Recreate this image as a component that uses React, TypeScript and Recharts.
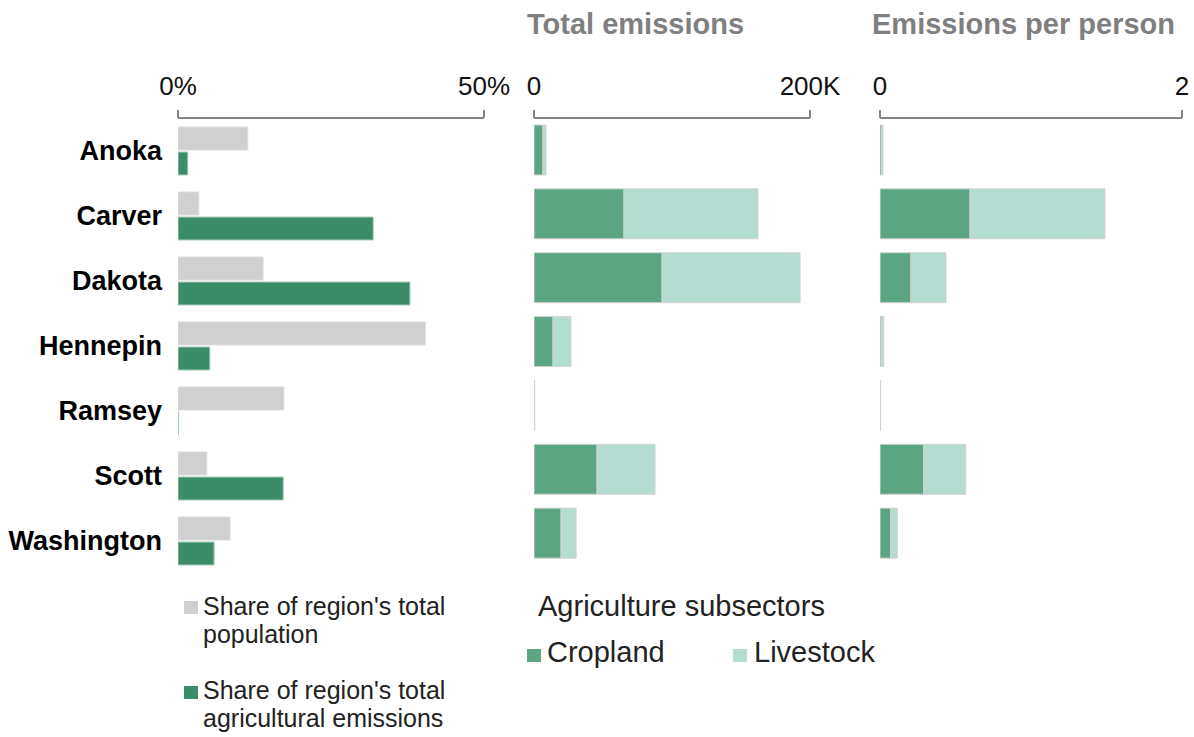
import { BarChart, Bar, XAxis, YAxis } from "recharts";

const counties = ["Anoka", "Carver", "Dakota", "Hennepin", "Ramsey", "Scott", "Washington"];
const populationShare = [11.4, 3.4, 13.9, 40.4, 17.3, 4.7, 8.5];
const emissionsShare = [1.6, 31.9, 37.9, 5.2, 0.1, 17.2, 5.9];
const croplandTotal = [6500, 65200, 92800, 13800, 200, 45700, 19600];
const livestockTotal = [2200, 97100, 100000, 13000, 300, 42000, 10900];
const croplandPerPerson = [0.012, 0.596, 0.205, 0.008, 0.001, 0.29, 0.071];
const livestockPerPerson = [0.008, 0.894, 0.232, 0.017, 0.002, 0.278, 0.044];
const shareTicks = [0, 50];
const totalTicks = [0, 200000];
const perPersonTicks = [0, 2];
const shareLegend = [
  ["Share of region's total", "population"],
  ["Share of region's total", "agricultural emissions"],
];
const subsectorTitle = "Agriculture subsectors";
const subsectors = ["Cropland", "Livestock"];

const FONT = '"Liberation Sans", Arial, sans-serif';
const GRAY = "#d0d0d0";
const GREEN = "#3b8c68";
const CROP = "#5ba582";
const LIVE = "#b3ddd0";
const AXIS = "#858585";

const data = counties.map((county, i) => ({
  county,
  population: populationShare[i],
  emissions: emissionsShare[i],
  cropTotal: croplandTotal[i],
  liveTotal: livestockTotal[i],
  cropPer: croplandPerPerson[i],
  livePer: livestockPerPerson[i],
}));

const tickStyle = { fill: "#111", fontSize: 26, fontFamily: FONT };

function topAxis(ticks: number[], fmt: (v: number) => string) {
  return (
    <XAxis
      type="number"
      orientation="top"
      domain={[ticks[0], ticks[ticks.length - 1]]}
      ticks={ticks}
      interval={0}
      height={40}
      tickSize={8}
      tickMargin={15}
      tick={tickStyle}
      tickFormatter={fmt}
      axisLine={{ stroke: AXIS, strokeWidth: 2 }}
      tickLine={{ stroke: AXIS, strokeWidth: 2 }}
      allowDataOverflow
    />
  );
}

function Swatch({ color, x, y }: { color: string; x: number; y: number }) {
  return (
    <div
      style={{ position: "absolute", left: x, top: y, width: 14, height: 13, background: color }}
    />
  );
}

const titleStyle = {
  position: "absolute" as const,
  top: 10,
  fontSize: 29,
  lineHeight: 1,
  fontWeight: 700,
  color: "#7f7f7f",
  whiteSpace: "nowrap" as const,
};

export default function App() {
  return (
    <div
      style={{
        position: "absolute",
        left: 0,
        top: 0,
        width: 1194,
        height: 737,
        background: "#fff",
        fontFamily: FONT,
        overflow: "hidden",
      }}
    >
      <div style={{ position: "absolute", left: 0, top: 0 }}>
        <BarChart
          layout="vertical"
          width={520}
          height={737}
          data={data}
          margin={{ top: 78, right: 36, left: 0, bottom: 164 }}
          barSize={23}
          barGap={2}
        >
          {topAxis(shareTicks, (v) => `${v}%`)}
          <YAxis
            type="category"
            dataKey="county"
            width={178}
            tickSize={0}
            tickMargin={16}
            axisLine={false}
            tickLine={false}
            tick={{ fill: "#000", fontSize: 27, fontWeight: 700, fontFamily: FONT }}
          />
          <Bar dataKey="population" fill={GRAY} stroke="#dcdcdc" strokeWidth={1} isAnimationActive={false} />
          <Bar dataKey="emissions" fill={GREEN} stroke="#a9cdbb" strokeWidth={1} isAnimationActive={false} />
        </BarChart>
      </div>

      <div style={{ position: "absolute", left: 500, top: 0 }}>
        <BarChart
          layout="vertical"
          width={340}
          height={737}
          data={data}
          margin={{ top: 78, right: 30, left: 34, bottom: 172 }}
          barSize={50}
        >
          {topAxis(totalTicks, (v) => (v === 0 ? "0" : `${v / 1000}K`))}
          <YAxis type="category" dataKey="county" hide />
          <Bar dataKey="cropTotal" stackId="t" fill={CROP} stroke="#d3d3d3" strokeWidth={1} isAnimationActive={false} />
          <Bar dataKey="liveTotal" stackId="t" fill={LIVE} stroke="#d3d3d3" strokeWidth={1} isAnimationActive={false} />
        </BarChart>
      </div>

      <div style={{ position: "absolute", left: 850, top: 0 }}>
        <BarChart
          layout="vertical"
          width={344}
          height={737}
          data={data}
          margin={{ top: 78, right: 12, left: 30, bottom: 172 }}
          barSize={50}
        >
          {topAxis(perPersonTicks, (v) => `${v}`)}
          <YAxis type="category" dataKey="county" hide />
          <Bar dataKey="cropPer" stackId="p" fill={CROP} stroke="#d3d3d3" strokeWidth={1} isAnimationActive={false} />
          <Bar dataKey="livePer" stackId="p" fill={LIVE} stroke="#d3d3d3" strokeWidth={1} isAnimationActive={false} />
        </BarChart>
      </div>

      <div style={{ ...titleStyle, left: 527 }}>Total emissions</div>
      <div style={{ ...titleStyle, left: 872 }}>Emissions per person</div>

      {shareLegend.map((lines, i) => (
        <div key={i}>
          <Swatch color={i === 0 ? GRAY : GREEN} x={184} y={601 + i * 85} />
          <div
            style={{
              position: "absolute",
              left: 203,
              top: 592 + i * 84,
              fontSize: 25,
              lineHeight: "28px",
              color: "#222",
              whiteSpace: "nowrap",
            }}
          >
            {lines.map((l) => (
              <div key={l}>{l}</div>
            ))}
          </div>
        </div>
      ))}

      <div
        style={{
          position: "absolute",
          left: 538,
          top: 592,
          fontSize: 29,
          lineHeight: 1,
          color: "#222",
          whiteSpace: "nowrap",
        }}
      >
        {subsectorTitle}
      </div>
      {subsectors.map((s, i) => (
        <div key={s}>
          <Swatch color={i === 0 ? CROP : LIVE} x={527 + i * 206} y={649} />
          <div
            style={{
              position: "absolute",
              left: 547 + i * 207,
              top: 638,
              fontSize: 29,
              lineHeight: 1,
              color: "#222",
              whiteSpace: "nowrap",
            }}
          >
            {s}
          </div>
        </div>
      ))}
    </div>
  );
}
